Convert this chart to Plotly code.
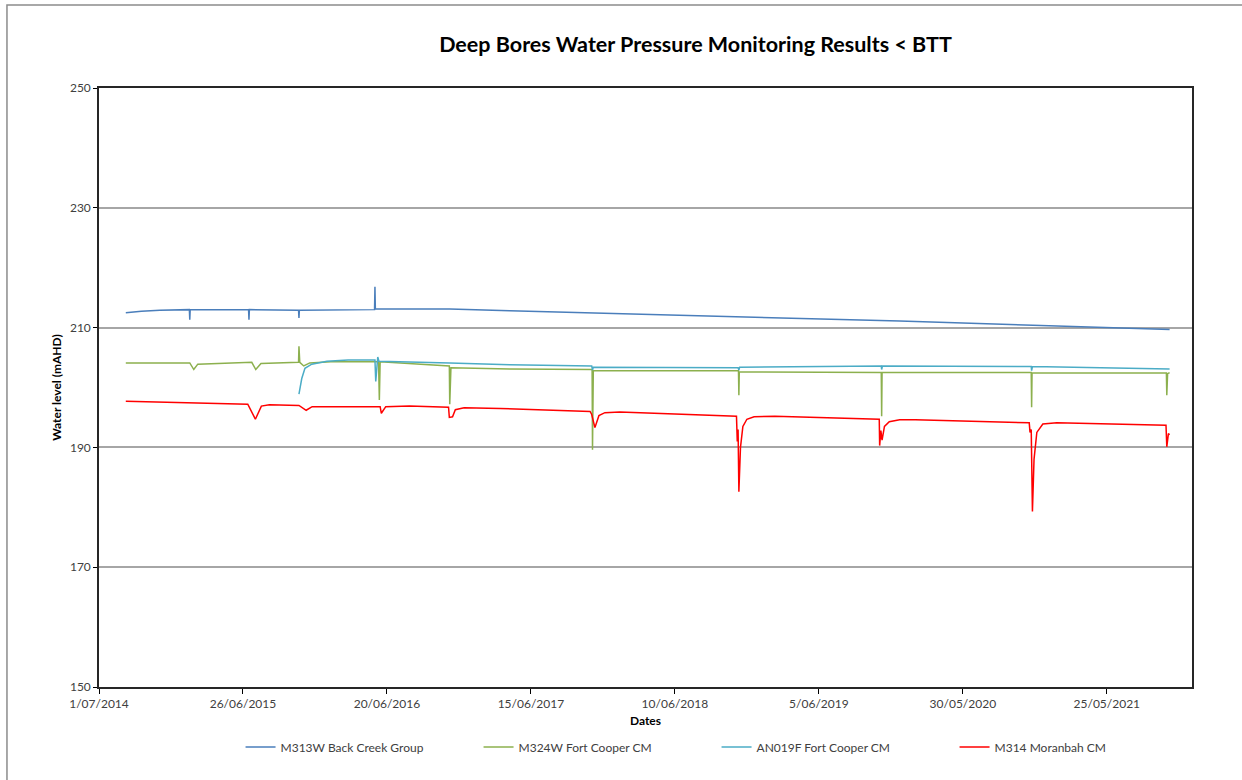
import plotly.graph_objects as go

# values
m313w_dates = ["2014-09-06", "2014-10-15", "2014-11-30", "2015-02-12", "2015-02-13", "2015-02-14",
               "2015-07-10", "2015-07-11", "2015-07-12", "2015-11-12", "2015-11-13", "2015-11-14",
               "2016-05-20", "2016-05-21", "2016-05-22", "2016-11-24", "2017-04-23", "2018-06-22",
               "2019-12-24", "2020-11-21", "2021-10-29"]
m313w_level = [212.5, 212.75, 212.9, 213.0, 211.3, 213.0,
               213.0, 211.3, 213.0, 212.9, 211.6, 212.9,
               213.0, 216.8, 213.1, 213.1, 212.8, 212.1,
               211.1, 210.4, 209.7]

m324w_dates = ["2014-09-06", "2015-02-13", "2015-02-23", "2015-03-05", "2015-07-18", "2015-07-28",
               "2015-08-10", "2015-11-12", "2015-11-13", "2015-11-15", "2015-11-25", "2015-12-10",
               "2016-02-01", "2016-05-30", "2016-06-01", "2016-06-03", "2016-11-23", "2016-11-24",
               "2016-11-27", "2017-04-23", "2017-11-15", "2017-11-16", "2017-11-18", "2018-11-16",
               "2018-11-17", "2018-11-18", "2019-11-08", "2019-11-09", "2019-11-10", "2020-11-17",
               "2020-11-18", "2020-11-19", "2021-10-21", "2021-10-22", "2021-10-24", "2021-10-29"]
m324w_level = [204.1, 204.1, 203.0, 203.9, 204.2, 203.0,
               204.0, 204.2, 206.9, 204.2, 203.6, 204.1,
               204.3, 204.3, 197.9, 204.3, 203.6, 197.2,
               203.3, 203.1, 203.0, 189.6, 202.8, 202.8,
               198.7, 202.6, 202.5, 195.2, 202.5, 202.5,
               196.7, 202.4, 202.4, 198.7, 202.3, 202.5]

an019f_dates = ["2015-11-13", "2015-11-20", "2015-11-28", "2015-12-15", "2016-01-22", "2016-03-15",
                "2016-05-21", "2016-05-23", "2016-05-28", "2016-05-31", "2016-11-24", "2017-04-23",
                "2017-11-14", "2017-11-16", "2017-11-18", "2018-11-15", "2018-11-17", "2018-11-19",
                "2019-11-08", "2019-11-09", "2019-11-11", "2020-11-17", "2020-11-18", "2020-11-20",
                "2021-10-29"]
an019f_level = [198.9, 201.5, 203.2, 203.9, 204.4, 204.6,
                204.6, 201.0, 205.1, 204.4, 204.1, 203.8,
                203.6, 202.9, 203.4, 203.3, 202.9, 203.4,
                203.6, 203.0, 203.6, 203.5, 202.8, 203.5,
                203.1]

m314_dates = ["2014-09-06", "2015-02-01", "2015-07-08", "2015-07-27", "2015-08-11", "2015-08-31",
              "2015-11-13", "2015-12-01", "2015-12-16", "2016-06-03", "2016-06-06", "2016-06-17",
              "2016-08-15", "2016-11-21", "2016-11-23", "2016-12-01", "2016-12-08", "2016-12-30",
              "2017-03-30", "2017-11-10", "2017-11-14", "2017-11-22", "2017-12-02", "2017-12-17",
              "2018-01-23", "2018-11-11", "2018-11-13", "2018-11-15", "2018-11-17", "2018-11-21",
              "2018-11-27", "2018-12-07", "2018-12-25", "2019-02-15", "2019-11-03", "2019-11-04",
              "2019-11-07", "2019-11-10", "2019-11-16", "2019-11-28", "2019-12-24", "2020-02-01",
              "2020-11-12", "2020-11-14", "2020-11-17", "2020-11-20", "2020-11-24", "2020-12-01",
              "2020-12-16", "2021-01-20", "2021-10-20", "2021-10-22", "2021-10-26", "2021-10-29"]
m314_level = [197.7, 197.4, 197.2, 194.7, 196.9, 197.1,
              197.0, 196.2, 196.8, 196.8, 195.7, 196.8,
              196.9, 196.7, 195.0, 195.1, 196.3, 196.6,
              196.5, 196.0, 195.5, 193.3, 195.3, 195.8,
              195.9, 195.2, 191.0, 193.0, 182.6, 190.0,
              193.5, 194.7, 195.1, 195.2, 194.7, 190.3,
              192.8, 191.2, 193.5, 194.3, 194.6, 194.6,
              194.1, 192.5, 193.0, 179.3, 188.0, 192.5,
              193.9, 194.1, 193.7, 190.1, 192.3, 192.1]

tick_dates = ["2014-07-01", "2015-06-26", "2016-06-20", "2017-06-15",
              "2018-06-10", "2019-06-05", "2020-05-30", "2021-05-25"]
tick_labels = ["1/07/2014", "26/06/2015", "20/06/2016", "15/06/2017",
               "10/06/2018", "5/06/2019", "30/05/2020", "25/05/2021"]

series = [
    ("M313W Back Creek Group", m313w_dates, m313w_level, "#4A7EBB"),
    ("M324W Fort Cooper CM", m324w_dates, m324w_level, "#8CB04E"),
    ("AN019F Fort Cooper CM", an019f_dates, an019f_level, "#4BACC6"),
    ("M314 Moranbah CM", m314_dates, m314_level, "#FF0000"),
]

FONT = "Lato, 'Open Sans', sans-serif"

fig = go.Figure()
for name, dates, level, color in series:
    fig.add_trace(go.Scatter(
        name=name,
        x=dates,
        y=level,
        mode="lines",
        line={"color": color, "width": 1.5},
    ))

fig.update_layout(
    width=1242,
    height=780,
    paper_bgcolor="white",
    plot_bgcolor="white",
    margin={"l": 99, "r": 50, "t": 88, "b": 93, "autoexpand": False},
    font={"family": FONT, "size": 12, "color": "#404040"},
    title={
        "text": "<b>Deep Bores Water Pressure Monitoring Results < BTT</b>",
        "font": {"family": FONT, "size": 21.5, "color": "black"},
        "x": 0.560, "xref": "container", "xanchor": "center",
        "y": 0.943, "yref": "container", "yanchor": "middle",
    },
    showlegend=True,
    legend={
        "orientation": "h",
        "x": 0.1295, "xanchor": "left",
        "y": -0.100, "yanchor": "middle",
        "entrywidth": 193, "entrywidthmode": "pixels",
        "font": {"family": FONT, "size": 12, "color": "#404040"},
        "itemwidth": 30,
    },
    shapes=[{
        "type": "rect", "xref": "paper", "yref": "paper",
        "x0": -0.0842, "x1": 1.06, "y0": -0.18, "y1": 1.1386,
        "line": {"color": "#8C8C8C", "width": 1.5},
        "layer": "below",
    }],
)

fig.update_xaxes(
    type="date",
    automargin=False,
    range=["2014-07-01", "2021-12-24"],
    tickvals=tick_dates,
    ticktext=tick_labels,
    ticks="outside",
    ticklen=5,
    tickcolor="black",
    showgrid=False,
    showline=True,
    linecolor="#262626",
    linewidth=1.5,
    mirror=True,
    title={"text": "<b>Dates</b>", "font": {"family": FONT, "size": 12, "color": "black"}, "standoff": 6},
)

fig.update_yaxes(
    automargin=False,
    range=[150, 250],
    tickvals=[150, 170, 190, 210, 230, 250],
    ticks="outside",
    ticklen=4,
    tickcolor="black",
    showgrid=True,
    gridcolor="#A6A6A6",
    gridwidth=1.5,
    zeroline=False,
    showline=True,
    linecolor="#262626",
    linewidth=1.5,
    mirror=True,
    title={"text": "<b>Water level (mAHD)</b>", "font": {"family": FONT, "size": 12, "color": "black"}, "standoff": 6},
)

# the page's default body margin would offset the figure
fig.write_html("out.html", config={"displayModeBar": False},
               post_script="document.body.style.margin = '0';")
